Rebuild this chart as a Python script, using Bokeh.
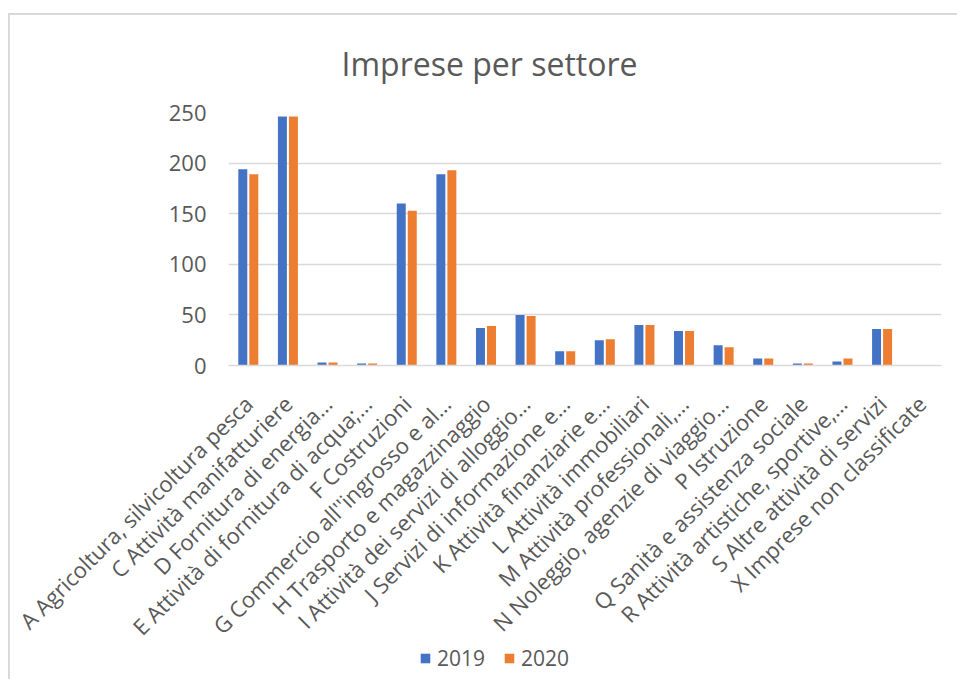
from bokeh.plotting import figure
from bokeh.layouts import column
from bokeh.models import FactorRange, Range1d, ColumnDataSource, Legend, LegendItem, FixedTicker
from bokeh.transform import dodge
from bokeh.embed import file_html
from bokeh.resources import INLINE
import math

title = "Imprese per settore"
categories = [
    "A Agricoltura, silvicoltura pesca",
    "C Attività manifatturiere",
    "D Fornitura di energia…",
    "E Attività di fornitura di acqua;…",
    "F Costruzioni",
    "G Commercio all''ingrosso e al…",
    "H Trasporto e magazzinaggio",
    "I Attività dei servizi di alloggio…",
    "J Servizi di informazione e…",
    "K Attività finanziarie e…",
    "L Attività immobiliari",
    "M Attività professionali,…",
    "N Noleggio, agenzie di viaggio…",
    "P Istruzione",
    "Q Sanità e assistenza sociale",
    "R Attività artistiche, sportive,…",
    "S Altre attività di servizi",
    "X Imprese non classificate",
]
v2019 = [194, 246, 3, 2, 160, 189, 37, 50, 14, 25, 40, 34, 20, 7, 2, 4, 36, 0]
v2020 = [189, 246, 3, 2, 153, 193, 39, 49, 14, 26, 40, 34, 18, 7, 2, 7, 36, 0]
series_names = ["2019", "2020"]
y_ticks = [0, 50, 100, 150, 200, 250]

BLUE = "#4472C4"
ORANGE = "#ED7D31"
TXT = "#595959"
GRID = "#D9D9D9"
FONT = "Open Sans"

src = ColumnDataSource(dict(cat=categories, a=v2019, b=v2020))

W = 947
H_MAIN = 660
H_LEG = 50

p = figure(
    width=W, height=H_MAIN,
    x_range=FactorRange(factors=categories, range_padding=0),
    y_range=Range1d(0, 250),
    output_backend="svg", toolbar_location=None,
    min_border_left=218, min_border_right=16,
    min_border_top=97, min_border_bottom=310,
)
p.outline_line_color = None
p.background_fill_color = "white"
p.border_fill_color = "white"

p.title.text = title
p.title.align = "left"
p.title.offset = 113
p.title.vertical_align = "top"
p.title.standoff = 52
p.title.text_font = FONT
p.title.text_font_size = "32px"
p.title.text_font_style = "normal"
p.title.text_color = TXT

bw = 0.227
r1 = p.vbar(x=dodge("cat", -0.139, range=p.x_range), top="a", width=bw, source=src,
            fill_color=BLUE, line_color=None)
r2 = p.vbar(x=dodge("cat", 0.139, range=p.x_range), top="b", width=bw, source=src,
            fill_color=ORANGE, line_color=None)

p.xgrid.grid_line_color = None
p.ygrid.grid_line_color = GRID
p.ygrid.grid_line_width = 1.5
p.yaxis.ticker = FixedTicker(ticks=y_ticks)

p.yaxis.axis_line_color = None
p.yaxis.major_tick_line_color = None
p.yaxis.minor_tick_line_color = None
p.yaxis.major_tick_out = 0
p.yaxis.major_tick_in = 0
p.yaxis.major_label_standoff = 22
p.yaxis.major_label_text_font = FONT
p.yaxis.major_label_text_font_size = "22px"
p.yaxis.major_label_text_color = TXT

p.xaxis.axis_line_color = GRID
p.xaxis.axis_line_width = 1.5
p.xaxis.major_tick_line_color = None
p.xaxis.minor_tick_line_color = None
p.xaxis.major_tick_out = 0
p.xaxis.major_tick_in = 0
p.xaxis.major_label_orientation = math.pi / 4
p.xaxis.major_label_standoff = 34
p.xaxis.major_label_text_font = FONT
p.xaxis.major_label_text_font_size = "22px"
p.xaxis.major_label_text_color = TXT

# legend strip, overlapping the empty bottom of the chart
lp = figure(
    width=W, height=H_LEG, x_range=Range1d(0, 1), y_range=Range1d(0, 1),
    output_backend="svg", toolbar_location=None,
    min_border=0, min_border_left=0, min_border_right=0, min_border_top=0, min_border_bottom=0,
    styles={"margin-top": "-46px"},
)
lp.axis.visible = False
lp.grid.visible = False
lp.outline_line_color = None
lp.background_fill_alpha = 0
lp.border_fill_alpha = 0
dummy = ColumnDataSource(dict(x=[-5], top=[0]))
l1 = lp.vbar(x="x", top="top", bottom="top", width=0.01, source=dummy,
             fill_color=BLUE, line_color=None)
l2 = lp.vbar(x="x", top="top", bottom="top", width=0.01, source=dummy,
             fill_color=ORANGE, line_color=None)

legend = Legend(items=[LegendItem(label=series_names[0], renderers=[l1]),
                       LegendItem(label=series_names[1], renderers=[l2])],
                orientation="horizontal", location=(191, 7))
legend.border_line_color = None
legend.background_fill_alpha = 0
legend.padding = 0
legend.margin = 0
legend.spacing = 18
legend.glyph_width = 12
legend.glyph_height = 12
legend.label_standoff = 6
legend.label_text_font = FONT
legend.label_text_font_size = "21px"
legend.label_text_color = TXT
lp.add_layout(legend, "center")

layout = column(p, lp, spacing=0,
                styles={"margin-left": "8px", "margin-top": "13px",
                        "border-left": "2px solid #D9D9D9", "border-top": "2px solid #D9D9D9"})

open("out.html", "w").write(file_html(layout, INLINE))
